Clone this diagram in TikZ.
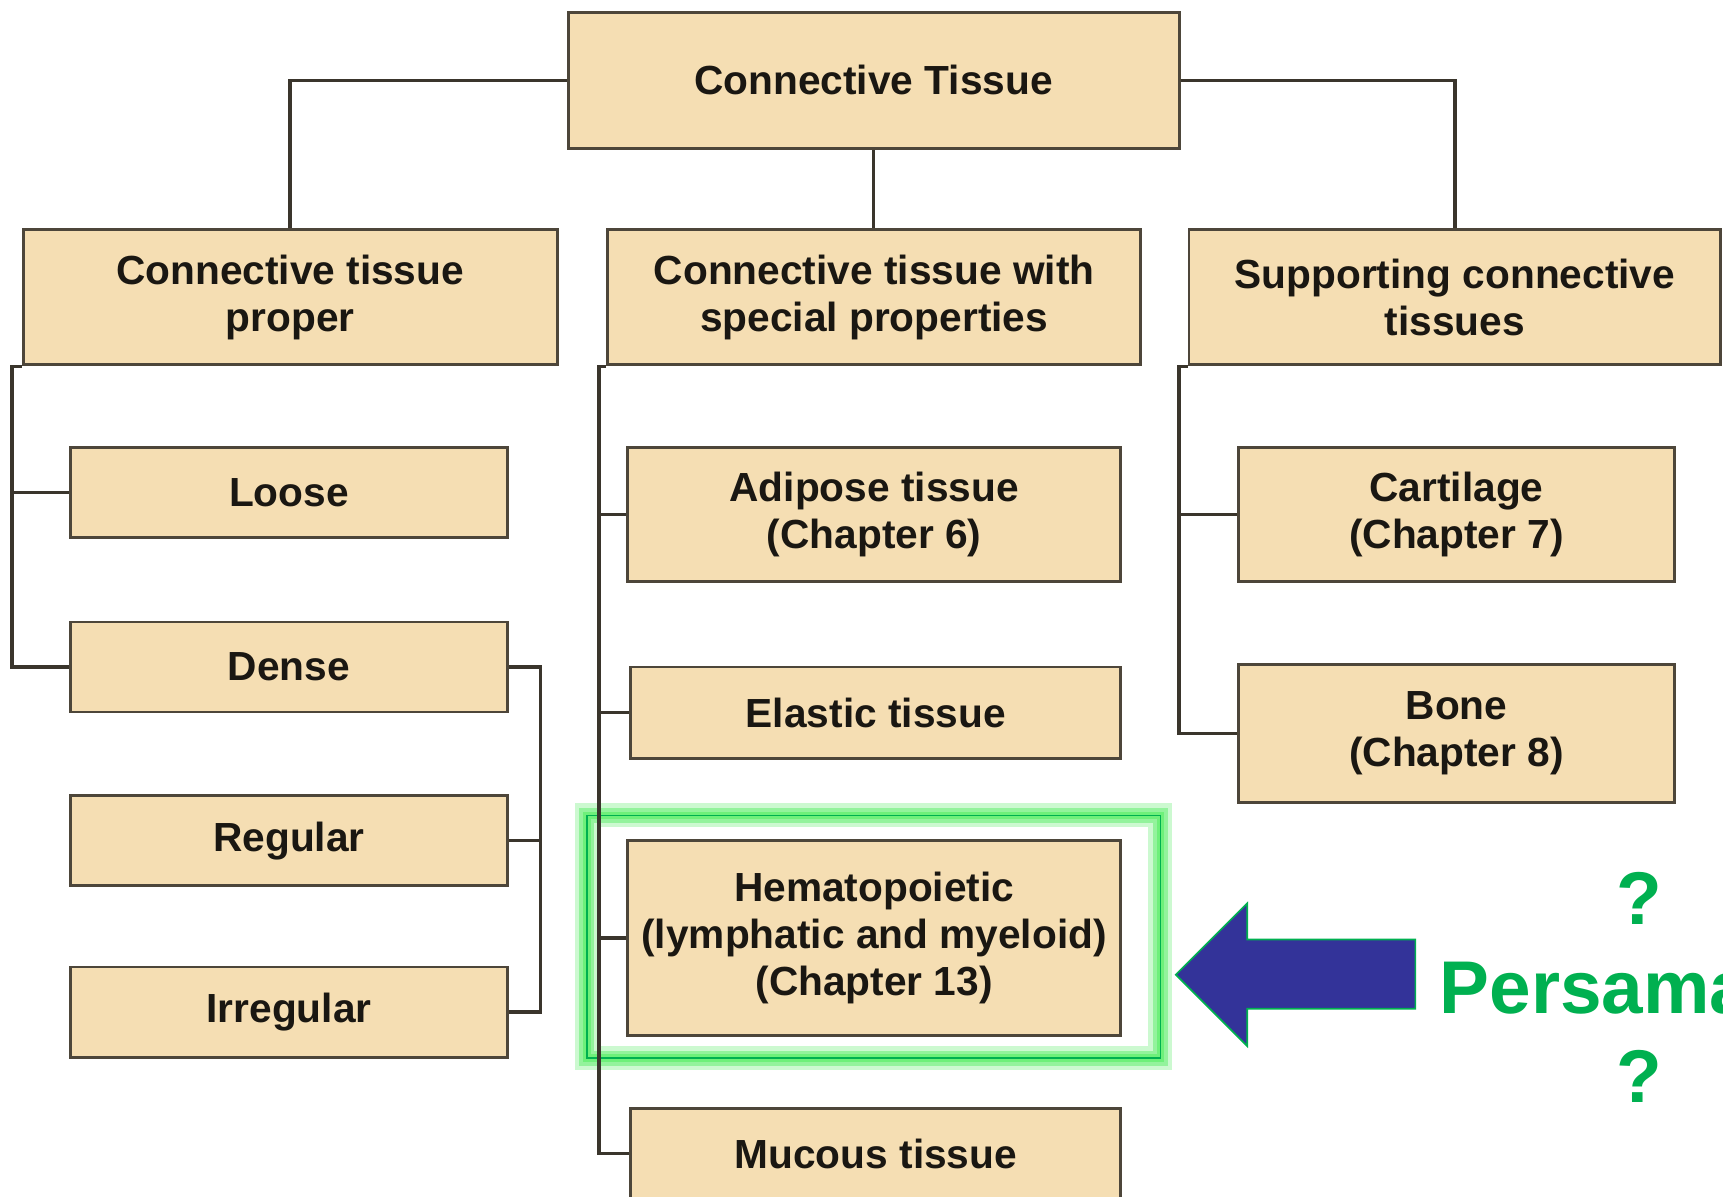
\documentclass[tikz,border=0pt]{standalone}
\usepackage{fontspec}
\setmainfont{Liberation Sans}
\definecolor{boxfill}{HTML}{F5DEB3}
\definecolor{boxline}{HTML}{4D463A}
\definecolor{conn}{HTML}{3A352C}
\definecolor{txt}{HTML}{1A1712}
\definecolor{hlgreen}{HTML}{00B050}
\definecolor{glowgreen}{HTML}{6EF07A}
\definecolor{arrowblue}{HTML}{333399}
\begin{document}
\begin{tikzpicture}[x=1pt,y=-1pt,
  tbox/.style={rectangle,draw=boxline,fill=boxfill,line width=2.6pt,inner sep=0pt,
    align=center,text=txt,font=\bfseries\fontsize{37}{43}\selectfont},
  conline/.style={draw=conn,line width=3pt},
  qtext/.style={text=hlgreen,font=\bfseries\fontsize{68}{80}\selectfont,inner sep=0pt}]
\useasboundingbox[fill=white] (0,0) rectangle (1568,1089);

% highlight glow
\draw[glowgreen,line width=22pt,opacity=0.35] (534,742) rectangle (1056,963);
\draw[glowgreen,line width=14pt,opacity=0.6] (534,742) rectangle (1056,963);
\draw[glowgreen,line width=7pt] (534,742) rectangle (1056,963);
\draw[hlgreen,line width=1.5pt] (534,742) rectangle (1056,963);

% boxes
\node[tbox,minimum width=556pt,minimum height=124pt] (top) at (795,73) {Connective Tissue};
\node[tbox,minimum width=486pt,minimum height=123pt] (ctp) at (264,270.5) {Connective tissue\\proper};
\node[tbox,minimum width=485pt,minimum height=123pt] (ctsp) at (795.5,270.5) {Connective tissue with\\special properties};
\node[tbox,minimum width=484pt,minimum height=123pt] (sct) at (1324,270.5) {Supporting connective\\tissues};

\node[tbox,minimum width=398pt,minimum height=82pt] (loose) at (263,448) {Loose};
\node[tbox,minimum width=398pt,minimum height=82pt] (dense) at (263,607) {Dense};
\node[tbox,minimum width=398pt,minimum height=82pt] (regular) at (263,765) {Regular};
\node[tbox,minimum width=398pt,minimum height=82pt] (irregular) at (263,921) {Irregular};

\node[tbox,minimum width=449pt,minimum height=122pt] (adipose) at (795.5,468) {Adipose tissue\\(Chapter 6)};
\node[tbox,minimum width=446pt,minimum height=83pt] (elastic) at (797,648.5) {Elastic tissue};
\node[tbox,minimum width=449pt,minimum height=177pt] (hema) at (795.5,853.5) {Hematopoietic\\(lymphatic and myeloid)\\(Chapter 13)};
\node[tbox,minimum width=446pt,minimum height=82pt] (mucous) at (797,1050) {Mucous tissue};

\node[tbox,minimum width=397pt,minimum height=122pt] (cartilage) at (1325.5,468) {Cartilage\\(Chapter 7)};
\node[tbox,minimum width=397pt,minimum height=125pt] (bone) at (1325.5,667.5) {Bone\\(Chapter 8)};

% connector coordinates
\coordinate (lx) at (11,0);
\coordinate (mx) at (545,0);
\coordinate (rx) at (1073,0);
\coordinate (dx) at (492,0);

% top connectors
\draw[conline] (top.west) -| (ctp.north);
\draw[conline] (top.south) -- (top.south |- ctsp.north);
\draw[conline] (top.east) -| (sct.north);

% left column
\draw[conline] (ctp.south west) -- (ctp.south west -| lx) -- (dense.west -| lx) -- (dense.west);
\draw[conline] (loose.west -| lx) -- (loose.west);
\draw[conline] (dense.east) -- (dense.east -| dx) -- (irregular.east -| dx) -- (irregular.east);
\draw[conline] (regular.east) -- (regular.east -| dx);

% middle column
\draw[conline] (ctsp.south west) -- (ctsp.south west -| mx) -- (mucous.west -| mx) -- (mucous.west);
\draw[conline] (adipose.west -| mx) -- (adipose.west);
\draw[conline] (elastic.west -| mx) -- (elastic.west);
\draw[conline] (hema.west -| mx) -- (hema.west);

% right column
\draw[conline] (sct.south west) -- (sct.south west -| rx) -- (bone.west -| rx) -- (bone.west);
\draw[conline] (cartilage.west -| rx) -- (cartilage.west);

% blue arrow
\draw[fill=arrowblue,draw=hlgreen,line width=1.5pt]
  (1070,887) -- (1135,822) -- (1135,855) -- (1288,855) -- (1288,918) -- (1135,918) -- (1135,952) -- cycle;

% green question text
\node[qtext] (q1) at (1492,818) {?};
\node[qtext,anchor=base west] (persama) at (1310,922) {Persama};
\node[qtext] (q2) at (1492,980) {?};
\end{tikzpicture}
\end{document}
